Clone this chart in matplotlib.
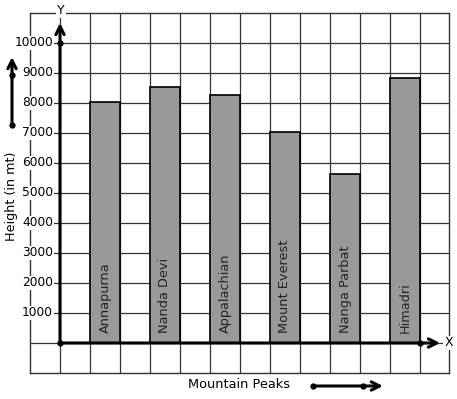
import matplotlib
matplotlib.use("Agg")
import matplotlib.pyplot as plt

peaks = ["Annapurna", "Nanda Devi", "Appalachian", "Mount Everest", "Nanga Parbat", "Himadri"]
heights = [8050, 8550, 8280, 7050, 5620, 8820]
yticks = [1000, 2000, 3000, 4000, 5000, 6000, 7000, 8000, 9000, 10000]

W, H = 457, 399
fig = plt.figure(figsize=(W / 100, H / 100), dpi=100)
# grid area in pixels: left 30, right 449, top 13, bottom 373
ax = fig.add_axes([30 / W, (H - 373) / H, 419 / W, 360 / H])
ax.set_xlim(-1, 419 / 30 - 1)
ax.set_ylim(-1000, 11000)
ax.set_xticks([])
ax.set_yticks([])
for s in ax.spines.values():
    s.set_color("#333333")
    s.set_linewidth(1.0)

gc = "#333333"
for xv in range(0, 13):
    ax.axvline(xv, color=gc, lw=0.9, zorder=1)
for yv in range(0, 11000, 1000):
    ax.axhline(yv, color=gc, lw=0.9, zorder=1)

xpos = [1.5 + 2 * i for i in range(len(peaks))]
ax.bar(xpos, heights, width=1.0, color="#999999", edgecolor="black", linewidth=1.2, zorder=2)
for x, name in zip(xpos, peaks):
    ax.text(x, 330, name, rotation=90, ha="center", va="bottom", fontsize=9.3,
            color="#222222", zorder=4)

# axes lines
ax.annotate("", xy=(0, 10670), xytext=(0, 0),
            arrowprops=dict(arrowstyle="->", lw=2.2, color="black", mutation_scale=15,
                            shrinkA=0, shrinkB=0), zorder=5, annotation_clip=False)
ax.annotate("", xy=(12.67, 0), xytext=(0, 0),
            arrowprops=dict(arrowstyle="->", lw=2.2, color="black", mutation_scale=15,
                            shrinkA=0, shrinkB=0), zorder=5, annotation_clip=False)
ax.plot([0, 0, 12], [0, 10000, 0], "o", color="black", ms=3.5, zorder=6, clip_on=False)

for yv in yticks:
    ax.text(-0.23, yv, str(yv), ha="right", va="center", fontsize=8.8, color="black",
            bbox=dict(facecolor="white", edgecolor="none", pad=0.6), zorder=4)

ax.text(0.03, 11100, "Y", ha="center", va="center", fontsize=9, color="black",
        bbox=dict(facecolor="white", edgecolor="none", pad=0.8), zorder=4, clip_on=False)
ax.text(12.95, 0, "X", ha="center", va="center", fontsize=9, color="black",
        bbox=dict(facecolor="white", edgecolor="none", pad=0.5), zorder=4, clip_on=False)

# axis titles and decorative arrows (figure pixel coords)
def px(x, y):
    return (x / W, 1 - y / H)

fig.text(*px(12, 196), "Height (in mt)", rotation=90, ha="center", va="center", fontsize=9.2)
fig.text(*px(239, 385), "Mountain Peaks", ha="center", va="center", fontsize=9.3)

fig.patches.append(matplotlib.patches.FancyArrowPatch(
    px(12, 125), px(12, 57), transform=fig.transFigure, arrowstyle="->",
    mutation_scale=15, lw=2.2, color="black", shrinkA=0, shrinkB=0))
fig.patches.append(matplotlib.patches.FancyArrowPatch(
    px(313, 386), px(383, 386), transform=fig.transFigure, arrowstyle="->",
    mutation_scale=15, lw=2.2, color="black", shrinkA=0, shrinkB=0))
for (x, y) in [(12, 125), (12, 75), (313, 386), (363, 386)]:
    fig.lines.append(matplotlib.lines.Line2D([x / W], [1 - y / H], marker="o", ms=3.5,
                                             color="black", transform=fig.transFigure))

fig.savefig("out.png", dpi=100, facecolor="white")
